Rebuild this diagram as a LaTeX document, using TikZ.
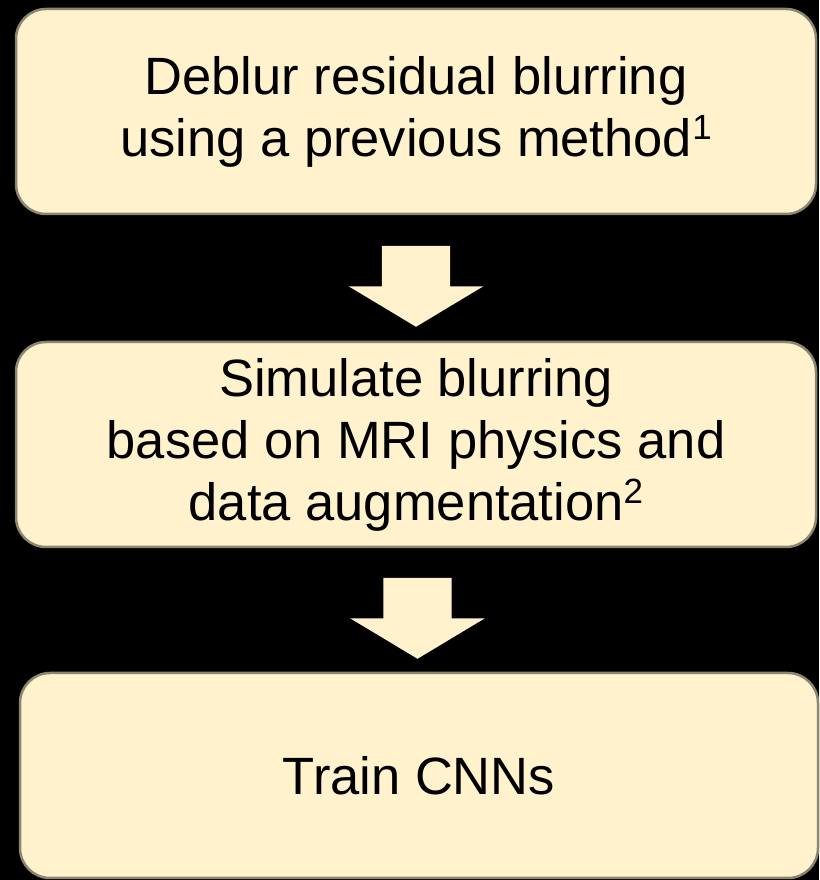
\documentclass[tikz,border=0pt]{standalone}
\usepackage{fontspec}
\setmainfont{Liberation Sans}
\usetikzlibrary{shapes.arrows,calc}
\definecolor{paleyellow}{HTML}{FFF2CC}
\newcommand{\supnum}[1]{\raisebox{17pt}{\fontsize{35}{35}\selectfont #1}}
\begin{document}
\begin{tikzpicture}[x=1pt,y=1pt,
    stepbox/.style={rectangle,rounded corners=30pt,fill=paleyellow,
      draw=paleyellow!55!black,line width=2.5pt,inner sep=0pt,
      minimum height=205pt,align=center,
      font=\fontsize{52.5}{62}\selectfont},
    blockarrow/.style={single arrow,fill=paleyellow,inner xsep=0pt,inner ysep=34pt,
      minimum height=81pt,
      single arrow head extend=33pt,single arrow tip angle=118,
      rotate=-90}]
    \fill[black] (0,0) rectangle (819,880);
    \useasboundingbox (0,0) rectangle (819,880);

    \node[stepbox,minimum width=800pt] (b1) at (416,768.5)
        {Deblur residual blurring\\using a previous method\supnum{1}};
    \node[stepbox,minimum width=800pt] (b2) at (416,435.5)
        {Simulate blurring\\based on MRI physics and\\data augmentation\supnum{2}};
    \node[stepbox,minimum width=798pt] (b3) at (419,104.5) {Train CNNs};

    \foreach \from / \to in {b1/b2,b2/b3}
        \node[blockarrow] (arr-\from) at ($(\from.south)!0.5!(\to.north)+(0,2)$) {};
\end{tikzpicture}
\end{document}
